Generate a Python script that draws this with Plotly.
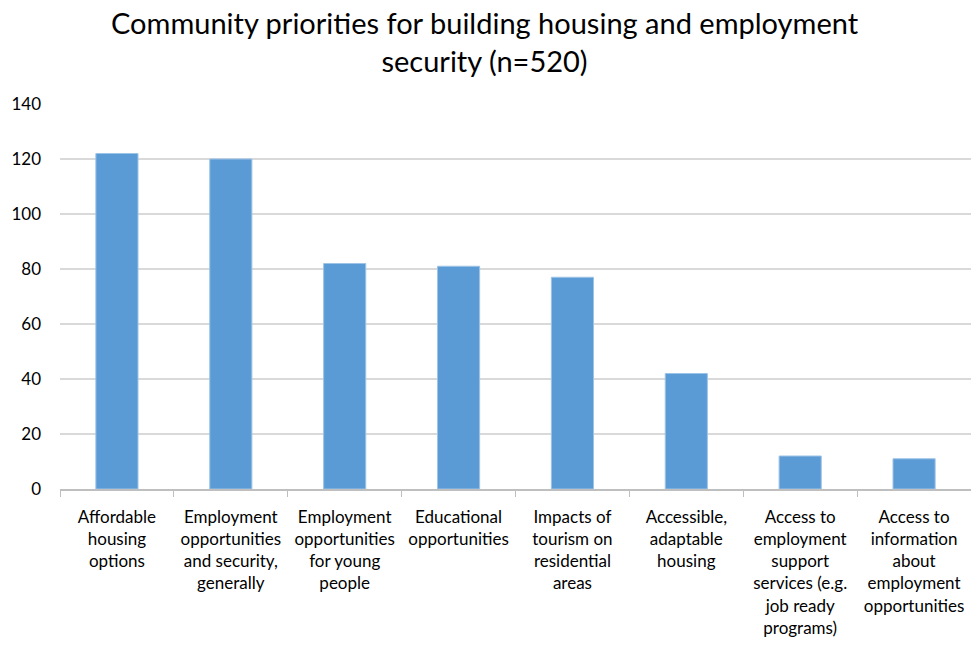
import plotly.graph_objects as go

categories = [
    "Affordable<br>housing<br>options",
    "Employment<br>opportunities<br>and security,<br>generally",
    "Employment<br>opportunities<br>for young<br>people",
    "Educational<br>opportunities",
    "Impacts of<br>tourism on<br>residential<br>areas",
    "Accessible,<br>adaptable<br>housing",
    "Access to<br>employment<br>support<br>services (e.g.<br>job ready<br>programs)",
    "Access to<br>information<br>about<br>employment<br>opportunities",
]
values = [122, 120, 82, 81, 77, 42, 12, 11]
y_ticks = [0, 20, 40, 60, 80, 100, 120, 140]
title_text = "Community priorities for building housing and employment<br>security (n=520)"

fig = go.Figure(go.Bar(
    x=categories, y=values,
    marker=dict(color="#5B9BD5", line=dict(color="#9DC3E6", width=1)),
))

font_family = "Lato, Open Sans, sans-serif"
fig.update_layout(
    width=971, height=649,
    margin=dict(l=60, r=0, t=104, b=160, autoexpand=False),
    paper_bgcolor="white", plot_bgcolor="white",
    bargap=0.63,
    showlegend=False,
    font=dict(family=font_family, size=17, color="#000000"),
)
fig.add_annotation(
    text=title_text, xref="paper", yref="paper",
    x=(485 - 60) / 911, y=(489 - 42) / 385, xanchor="center", yanchor="middle",
    showarrow=False, font=dict(family=font_family, size=29, color="#000000"),
)
fig.update_yaxes(
    range=[0, 140], tickvals=y_ticks, showgrid=True, gridcolor="#D9D9D9", gridwidth=2,
    zeroline=False, showline=False, ticks="", ticklabelstandoff=18, automargin=False,
    tickfont=dict(size=17, color="#000000"),
)
fig.update_xaxes(
    showline=True, linecolor="#BFBFBF", linewidth=1.5, automargin=False,
    ticks="outside", tickson="boundaries", ticklen=6, tickcolor="#BFBFBF",
    tickangle=0, tickfont=dict(size=17, color="#000000"), ticklabelstandoff=12,
)
fig.write_html(
    "out.html",
    config={"displayModeBar": False},
    post_script="document.body.style.margin='0';",
)
